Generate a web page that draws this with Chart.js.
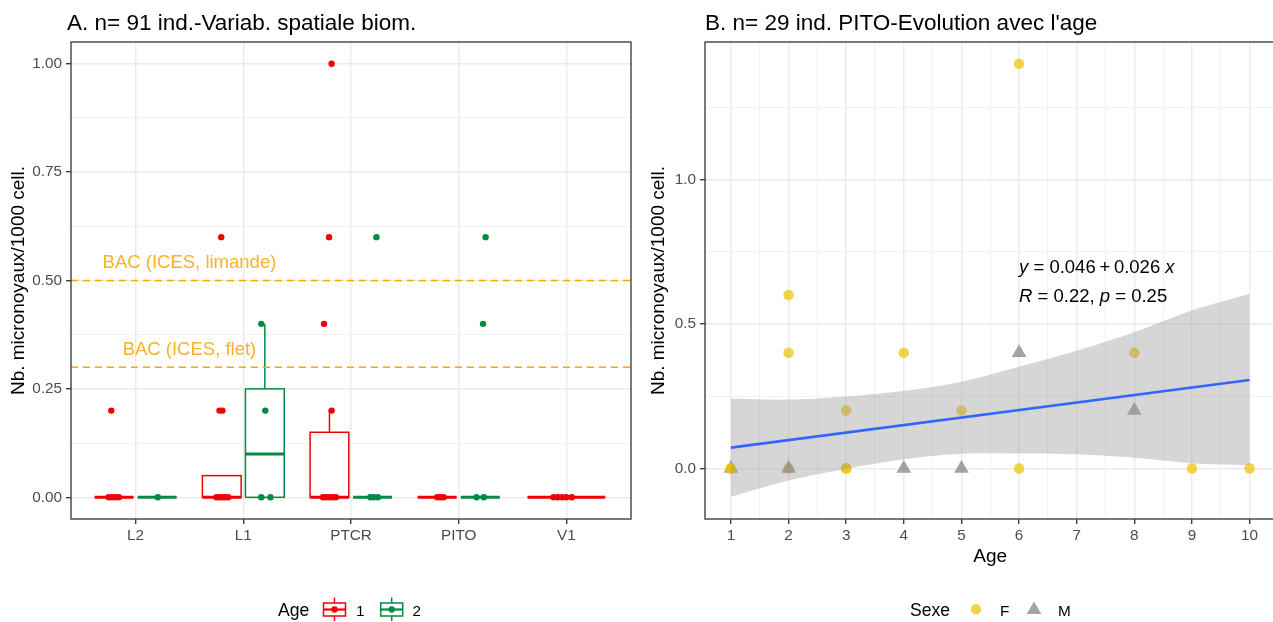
<!DOCTYPE html>
<html>
<head>
<meta charset="utf-8">
<title>Micronoyaux</title>
<script src="https://cdn.jsdelivr.net/npm/chart.js@4.4.1/dist/chart.umd.min.js"></script>
<style>
  html, body { margin: 0; padding: 0; background: #ffffff; overflow: hidden; width: 1273px; height: 622px; position: relative; }
  .panel { position: absolute; top: 0; height: 622px; }
  #panelA { left: 0; width: 640px; }
  #panelB { left: 640px; width: 644px; }
  canvas { display: block; }
</style>
</head>
<body>
<div class="panel" id="panelA"><canvas id="chartA" width="640" height="622"></canvas></div>
<div class="panel" id="panelB"><canvas id="chartB" width="644" height="622"></canvas></div>
<script>
// ---------- Panel A: micronuclei per 1000 cells by site and age class ----------
const sites = ['L2', 'L1', 'PTCR', 'PITO', 'V1'];
const ageClasses = ['1', '2'];
// box statistics per site: [lower whisker, Q1, median, Q3, upper whisker]; null = no fish
const age1Box = [[0, 0, 0, 0, 0], [0, 0, 0, 0.05, 0], [0, 0, 0, 0.15, 0.2], [0, 0, 0, 0, 0], [0, 0, 0, 0, 0]];
const age2Box = [[0, 0, 0, 0, 0], [0, 0, 0.1, 0.25, 0.4], [0, 0, 0, 0, 0], [0, 0, 0, 0, 0], null];
// individual fish: [site index, value, jitter]
const age1Fish = [
  [0, 0.2, -0.026], [0, 0, -0.05], [0, 0, -0.02], [0, 0, 0.01], [0, 0, 0.045],
  [1, 0.6, -0.005], [1, 0.2, -0.021], [1, 0.2, 0.006], [1, 0, -0.05], [1, 0, -0.02], [1, 0, 0], [1, 0, 0.03], [1, 0, 0.06],
  [2, 1.0, 0.02], [2, 0.6, -0.004], [2, 0.4, -0.05], [2, 0.2, 0.02], [2, 0, -0.06], [2, 0, -0.03], [2, 0, 0], [2, 0, 0.03], [2, 0, 0.06],
  [3, 0, 0], [3, 0, 0.03], [3, 0, 0.06],
  [4, 0, -0.12], [4, 0, -0.08], [4, 0, -0.04], [4, 0, 0], [4, 0, 0.05]
];
const age2Fish = [
  [0, 0, 0.006],
  [1, 0.4, -0.033], [1, 0.2, 0.004], [1, 0, -0.033], [1, 0, 0.052],
  [2, 0.6, 0.036], [2, 0, -0.02], [2, 0, 0.01], [2, 0, 0.05],
  [3, 0.6, 0.05], [3, 0.4, 0.026], [3, 0, -0.035], [3, 0, 0.033]
];
// background assessment criteria (ICES)
const bacValues = [0.5, 0.3];
const bacLabels = ['BAC (ICES, limande)', 'BAC (ICES, flet)'];
const bacLabelX = 1.5;
const bacLabelY = [0.54, 0.34];
const yTicksA = [0, 0.25, 0.5, 0.75, 1];
const yMinorA = [0.125, 0.375, 0.625, 0.875];

// ---------- Panel B: PITO, micronuclei vs age ----------
const femaleAge = [1, 1, 2, 2, 2, 3, 3, 3, 4, 5, 6, 6, 8, 9, 10];
const femaleVal = [0, 0, 0, 0.4, 0.6, 0, 0, 0.2, 0.4, 0.2, 0, 1.4, 0.4, 0, 0];
const maleAge = [1, 2, 4, 5, 6, 8];
const maleVal = [0, 0, 0, 0, 0.4, 0.2];
const bandAge = [1, 2, 3, 4, 5, 6, 7, 8, 9, 10];
const bandUpper = [0.242, 0.238, 0.249, 0.268, 0.300, 0.352, 0.407, 0.471, 0.546, 0.604];
const bandLower = [-0.098, -0.042, -0.001, 0.032, 0.051, 0.052, 0.049, 0.037, 0.018, 0.011];
const fitIntercept = 0.046, fitSlope = 0.026, fitR = 0.22, fitP = 0.25;
const xTicksB = [1, 2, 3, 4, 5, 6, 7, 8, 9, 10];
const xMinorB = [1.5, 2.5, 3.5, 4.5, 5.5, 6.5, 7.5, 8.5, 9.5];
const yTicksB = [0, 0.5, 1];
const yMinorB = [0.25, 0.75, 1.25];

// ---------- shared styling ----------
const FAMILY = "'Liberation Sans', Arial, sans-serif";
Chart.defaults.font.family = FAMILY;
const AXIS_TEXT = '#4D4D4D';
const GRID = '#EBEBEB';
const FRAME = '#333333';
const AGE_COLORS = ['#F00000', '#008B45'];
const SEX_COLORS = ['rgba(239,192,0,0.7)', 'rgba(134,134,134,0.75)'];
const BAC_LINE = '#FFA500';
const BAC_TEXT = '#FFB02A';
const DODGE = 0.8;

function gridOpts(majors) {
  return {
    color: GRID,
    lineWidth: c => (c.tick && majors.includes(c.tick.value)) ? 1.4 : 0.7,
    drawTicks: true,
    tickLength: 5,
    tickWidth: 1.3,
    tickColor: c => (c.tick && majors.includes(c.tick.value)) ? FRAME : 'rgba(0,0,0,0)'
  };
}
function tickFont() { return { family: FAMILY, size: 15.3 }; }
function sortedTicks(a, b) { return a.concat(b).sort((p, q) => p - q).map(v => ({ value: v })); }

const panelFrame = {
  id: 'panelFrame',
  afterDraw(chart) {
    const a = chart.chartArea, ctx = chart.ctx;
    ctx.save();
    ctx.strokeStyle = FRAME;
    ctx.lineWidth = 1.3;
    ctx.strokeRect(a.left, a.top, a.right - a.left, a.bottom - a.top);
    ctx.restore();
  }
};

const panelTitle = {
  id: 'panelTitle',
  afterDraw(chart, args, opts) {
    const ctx = chart.ctx;
    ctx.save();
    ctx.font = '22.5px ' + FAMILY;
    ctx.fillStyle = '#000';
    ctx.textAlign = 'left';
    ctx.textBaseline = 'alphabetic';
    ctx.fillText(opts.text, chart.chartArea.left + opts.dx, 29.5);
    ctx.restore();
  }
};

// ---------- Panel A helpers ----------
function boxCenter(i, g) {
  const present = [age1Box[i], age2Box[i]].map(b => b !== null);
  const n = present.filter(Boolean).length;
  const k = present.slice(0, g).filter(Boolean).length;
  const slot = DODGE / n;
  return { center: i + 1 - DODGE / 2 + slot * (k + 0.5), width: slot * 0.9 };
}

const boxPlots = {
  id: 'boxPlots',
  beforeDatasetsDraw(chart) {
    const { ctx, chartArea: a, scales: { x, y } } = chart;
    ctx.save();
    ctx.beginPath();
    ctx.rect(a.left, a.top, a.right - a.left, a.bottom - a.top);
    ctx.clip();
    [age1Box, age2Box].forEach((boxes, g) => {
      boxes.forEach((st, i) => {
        if (!st) return;
        const { center, width } = boxCenter(i, g);
        const xl = x.getPixelForValue(center - width / 2);
        const xr = x.getPixelForValue(center + width / 2);
        const xc = x.getPixelForValue(center);
        const [lo, q1, med, q3, hi] = st.map(v => y.getPixelForValue(v));
        ctx.strokeStyle = AGE_COLORS[g];
        ctx.lineWidth = 1.5;
        ctx.beginPath();
        ctx.moveTo(xc, q3); ctx.lineTo(xc, hi);
        ctx.moveTo(xc, q1); ctx.lineTo(xc, lo);
        ctx.stroke();
        ctx.fillStyle = '#ffffff';
        ctx.fillRect(xl, q3, xr - xl, q1 - q3);
        ctx.strokeRect(xl, q3, xr - xl, q1 - q3);
        ctx.lineWidth = 3;
        ctx.beginPath();
        ctx.moveTo(xl, med); ctx.lineTo(xr, med);
        ctx.stroke();
      });
    });
    ctx.restore();
  }
};

const bacLines = {
  id: 'bacLines',
  afterDatasetsDraw(chart) {
    const { ctx, chartArea: a, scales: { x, y } } = chart;
    ctx.save();
    bacValues.forEach((v, k) => {
      const py = y.getPixelForValue(v);
      ctx.strokeStyle = BAC_LINE;
      ctx.lineWidth = 1.6;
      ctx.setLineDash([7, 5]);
      ctx.beginPath();
      ctx.moveTo(a.left, py); ctx.lineTo(a.right, py);
      ctx.stroke();
      ctx.setLineDash([]);
      ctx.font = '18.5px ' + FAMILY;
      ctx.fillStyle = BAC_TEXT;
      ctx.textAlign = 'center';
      ctx.textBaseline = 'middle';
      ctx.fillText(bacLabels[k], x.getPixelForValue(bacLabelX), y.getPixelForValue(bacLabelY[k]));
    });
    ctx.restore();
  }
};

const legendA = {
  id: 'legendA',
  afterDraw(chart) {
    const ctx = chart.ctx;
    ctx.save();
    ctx.fillStyle = '#000';
    ctx.textAlign = 'left';
    ctx.textBaseline = 'alphabetic';
    ctx.font = '17.6px ' + FAMILY;
    ctx.fillText('Age', 278, 616);
    const keyX = [334.5, 391.7];
    const labelX = [356, 412.5];
    ageClasses.forEach((lab, g) => {
      const cx = keyX[g];
      ctx.strokeStyle = AGE_COLORS[g];
      ctx.lineWidth = 1.5;
      ctx.beginPath();
      ctx.moveTo(cx, 597.5); ctx.lineTo(cx, 621);
      ctx.stroke();
      ctx.fillStyle = '#ffffff';
      ctx.fillRect(cx - 11, 603, 22, 13);
      ctx.strokeRect(cx - 11, 603, 22, 13);
      ctx.lineWidth = 2.2;
      ctx.beginPath();
      ctx.moveTo(cx - 11, 609.5); ctx.lineTo(cx + 11, 609.5);
      ctx.stroke();
      ctx.fillStyle = AGE_COLORS[g];
      ctx.beginPath();
      ctx.arc(cx, 609.5, 3.2, 0, Math.PI * 2);
      ctx.fill();
      ctx.fillStyle = '#000';
      ctx.font = '15.3px ' + FAMILY;
      ctx.fillText(lab, labelX[g], 615.5);
    });
    ctx.restore();
  }
};

function fishPoints(list, g) {
  return list.map(([i, v, j]) => ({ x: boxCenter(i, g).center + j, y: v }));
}

new Chart(document.getElementById('chartA'), {
  type: 'scatter',
  data: {
    datasets: [
      { label: ageClasses[1], data: fishPoints(age2Fish, 1), backgroundColor: AGE_COLORS[1], borderWidth: 0, pointRadius: 3.2 },
      { label: ageClasses[0], data: fishPoints(age1Fish, 0), backgroundColor: AGE_COLORS[0], borderWidth: 0, pointRadius: 3.2 }
    ]
  },
  options: {
    responsive: false,
    animation: false,
    events: [],
    layout: { padding: { left: 0, top: 42, right: 9, bottom: 52 } },
    plugins: {
      legend: { display: false },
      tooltip: { enabled: false },
      panelTitle: { text: 'A. n= 91 ind.-Variab. spatiale biom.', dx: -4 }
    },
    scales: {
      x: {
        type: 'linear', min: 0.4, max: 5.6,
        afterBuildTicks: s => { s.ticks = sites.map((_, i) => ({ value: i + 1 })); },
        afterFit: s => { s.height = 51; },
        ticks: { callback: v => sites[Math.round(v) - 1] || '', font: tickFont(), color: AXIS_TEXT, padding: 3, maxRotation: 0, autoSkip: false },
        grid: gridOpts(sites.map((_, i) => i + 1)),
        border: { display: false }
      },
      y: {
        type: 'linear', min: -0.05, max: 1.05,
        afterBuildTicks: s => { s.ticks = sortedTicks(yTicksA, yMinorA); },
        afterFit: s => { s.width = 71; },
        ticks: { callback: v => yTicksA.includes(v) ? v.toFixed(2) : '', font: tickFont(), color: AXIS_TEXT, padding: 4, autoSkip: false },
        grid: gridOpts(yTicksA),
        border: { display: false },
        title: { display: true, text: 'Nb. micronoyaux/1000 cell.', color: '#000', font: { family: FAMILY, size: 19 }, padding: { top: 7, bottom: 0 } }
      }
    }
  },
  plugins: [boxPlots, bacLines, panelFrame, panelTitle, legendA]
});

// ---------- Panel B ----------
const fitText = {
  id: 'fitText',
  afterDatasetsDraw(chart) {
    const { ctx, scales: { x, y } } = chart;
    const lines = [
      [['y', true], [' = ' + fitIntercept.toFixed(3) + '\u2009+\u2009' + fitSlope.toFixed(3) + ' ', false], ['x', true]],
      [['R', true], [' = ' + fitR.toFixed(2) + ', ', false], ['p', true], [' = ' + fitP.toFixed(2), false]]
    ];
    const anchorY = [0.7, 0.6];
    ctx.save();
    ctx.fillStyle = '#000';
    ctx.textAlign = 'left';
    ctx.textBaseline = 'alphabetic';
    lines.forEach((parts, k) => {
      let px = x.getPixelForValue(6);
      const py = y.getPixelForValue(anchorY[k]) + 6.6;
      parts.forEach(([t, it]) => {
        ctx.font = (it ? 'italic ' : '') + '18.5px ' + FAMILY;
        ctx.fillText(t, px, py);
        px += ctx.measureText(t).width;
      });
    });
    ctx.restore();
  }
};

const legendB = {
  id: 'legendB',
  afterDraw(chart) {
    const ctx = chart.ctx;
    ctx.save();
    ctx.fillStyle = '#000';
    ctx.textAlign = 'left';
    ctx.textBaseline = 'alphabetic';
    ctx.font = '17.6px ' + FAMILY;
    ctx.fillText('Sexe', 270, 616);
    // F key
    ctx.fillStyle = SEX_COLORS[0];
    ctx.beginPath();
    ctx.arc(336, 609.3, 5.3, 0, Math.PI * 2);
    ctx.fill();
    // M key
    ctx.fillStyle = SEX_COLORS[1];
    ctx.beginPath();
    ctx.moveTo(394, 601.5); ctx.lineTo(401.4, 614); ctx.lineTo(386.6, 614);
    ctx.closePath();
    ctx.fill();
    ctx.fillStyle = '#000';
    ctx.font = '15.3px ' + FAMILY;
    ctx.fillText('F', 360, 615.5);
    ctx.fillText('M', 418, 615.5);
    ctx.restore();
  }
};

const ageMin = bandAge[0], ageMax = bandAge[bandAge.length - 1];

new Chart(document.getElementById('chartB'), {
  type: 'scatter',
  data: {
    datasets: [
      {
        type: 'line', label: 'fit',
        data: [ageMin, ageMax].map(a => ({ x: a, y: fitIntercept + fitSlope * a })),
        borderColor: '#3366FF', borderWidth: 2.6, pointRadius: 0, fill: false
      },
      {
        type: 'line', label: 'ci-upper',
        data: bandAge.map((a, i) => ({ x: a, y: bandUpper[i] })),
        borderColor: 'rgba(0,0,0,0)', borderWidth: 1, pointRadius: 0, tension: 0.3,
        fill: '+1', backgroundColor: 'rgba(153,153,153,0.4)'
      },
      {
        type: 'line', label: 'ci-lower',
        data: bandAge.map((a, i) => ({ x: a, y: bandLower[i] })),
        borderColor: 'rgba(0,0,0,0)', borderWidth: 1, pointRadius: 0, tension: 0.3, fill: false
      },
      {
        label: 'F', data: femaleAge.map((a, i) => ({ x: a, y: femaleVal[i] })).filter(p => p.x === 1),
        pointStyle: 'circle', pointRadius: 5.3, backgroundColor: SEX_COLORS[0], borderWidth: 0
      },
      {
        label: 'M', data: maleAge.map((a, i) => ({ x: a, y: maleVal[i] })),
        pointStyle: 'triangle', pointRadius: 8.5, backgroundColor: SEX_COLORS[1], borderWidth: 0
      },
      {
        label: 'F', data: femaleAge.map((a, i) => ({ x: a, y: femaleVal[i] })).filter(p => p.x !== 1),
        pointStyle: 'circle', pointRadius: 5.3, backgroundColor: SEX_COLORS[0], borderWidth: 0
      }
    ]
  },
  options: {
    responsive: false,
    animation: false,
    events: [],
    layout: { padding: { left: 0, top: 42, right: 1, bottom: 52 } },
    plugins: {
      legend: { display: false },
      tooltip: { enabled: false },
      panelTitle: { text: "B. n= 29 ind. PITO-Evolution avec l'age", dx: 0 }
    },
    scales: {
      x: {
        type: 'linear', min: 0.55, max: 10.45,
        afterBuildTicks: s => { s.ticks = sortedTicks(xTicksB, xMinorB); },
        afterFit: s => { s.height = 51; },
        ticks: { callback: v => xTicksB.includes(v) ? String(v) : '', font: tickFont(), color: AXIS_TEXT, padding: 3, maxRotation: 0, autoSkip: false },
        grid: gridOpts(xTicksB),
        border: { display: false },
        title: { display: true, text: 'Age', color: '#000', font: { family: FAMILY, size: 19 }, padding: { top: 0, bottom: 2 } }
      },
      y: {
        type: 'linear', min: -0.175, max: 1.475,
        afterBuildTicks: s => { s.ticks = sortedTicks(yTicksB, yMinorB); },
        afterFit: s => { s.width = 65; },
        ticks: { callback: v => yTicksB.includes(v) ? v.toFixed(1) : '', font: tickFont(), color: AXIS_TEXT, padding: 4, autoSkip: false },
        grid: gridOpts(yTicksB),
        border: { display: false },
        title: { display: true, text: 'Nb. micronoyaux/1000 cell.', color: '#000', font: { family: FAMILY, size: 19 }, padding: { top: 7, bottom: 0 } }
      }
    }
  },
  plugins: [fitText, panelFrame, panelTitle, legendB]
});
</script>
</body>
</html>
